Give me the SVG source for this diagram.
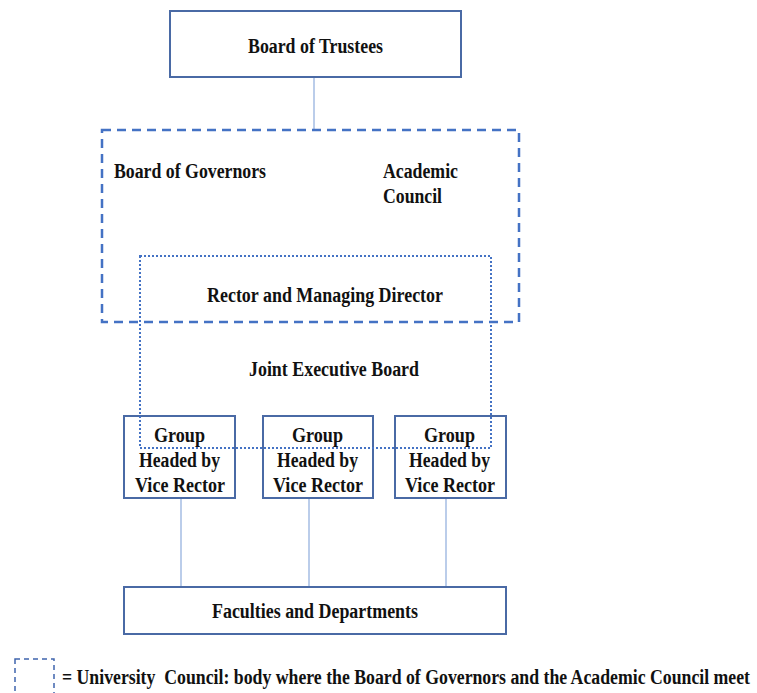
<svg xmlns="http://www.w3.org/2000/svg" width="757" height="693" viewBox="0 0 757 693">
<style>
.box{fill:#fff;stroke:#4a6aa5;stroke-width:2}
.ln{stroke:#a5bce3;stroke-width:1.5;fill:none}
.t{font-family:"Liberation Serif","Times New Roman",serif;font-weight:bold;font-size:20px;fill:#111}
.c{text-anchor:middle}
</style>
<rect width="757" height="693" fill="#fff"/>
<g id="connectors">
<line class="ln" x1="314" y1="77" x2="314" y2="129"/>
<line class="ln" x1="181" y1="499" x2="181" y2="587"/>
<line class="ln" x1="309" y1="499" x2="309" y2="587"/>
<line class="ln" x1="446" y1="499" x2="446" y2="587"/>
</g>
<g id="trustees">
<rect class="box" x="170" y="11" width="291" height="66"/>
<text class="t" x="248" y="53" textLength="135" lengthAdjust="spacingAndGlyphs">Board of Trustees</text>
</g>
<g id="university-council">
<rect x="102" y="130" width="417" height="192" fill="none" stroke="#4472c4" stroke-width="2.5" stroke-dasharray="9,6"/>
<text class="t" x="114" y="178" textLength="152" lengthAdjust="spacingAndGlyphs">Board of Governors</text>
<text class="t" x="383" y="178" textLength="75" lengthAdjust="spacingAndGlyphs">Academic</text>
<text class="t" x="383" y="203" textLength="59" lengthAdjust="spacingAndGlyphs">Council</text>
<text class="t" x="207" y="302" textLength="236" lengthAdjust="spacingAndGlyphs">Rector and Managing Director</text>
</g>
<g id="groups">
<g id="group1">
<rect class="box" x="124" y="416" width="111" height="82"/>
<text class="t" x="154" y="442" textLength="51" lengthAdjust="spacingAndGlyphs">Group</text>
<text class="t" x="139" y="467" textLength="81" lengthAdjust="spacingAndGlyphs">Headed by</text>
<text class="t" x="135" y="492" textLength="90" lengthAdjust="spacingAndGlyphs">Vice Rector</text>
</g>
<g id="group2">
<rect class="box" x="263" y="416" width="110" height="82"/>
<text class="t" x="292" y="442" textLength="51" lengthAdjust="spacingAndGlyphs">Group</text>
<text class="t" x="277" y="467" textLength="81" lengthAdjust="spacingAndGlyphs">Headed by</text>
<text class="t" x="273" y="492" textLength="90" lengthAdjust="spacingAndGlyphs">Vice Rector</text>
</g>
<g id="group3">
<rect class="box" x="395" y="416" width="111" height="82"/>
<text class="t" x="424" y="442" textLength="51" lengthAdjust="spacingAndGlyphs">Group</text>
<text class="t" x="409" y="467" textLength="81" lengthAdjust="spacingAndGlyphs">Headed by</text>
<text class="t" x="405" y="492" textLength="90" lengthAdjust="spacingAndGlyphs">Vice Rector</text>
</g>
</g>
<g id="joint-executive-board">
<rect x="140" y="256" width="351" height="192" fill="none" stroke="#4472c4" stroke-width="2" stroke-dasharray="2,2"/>
<text class="t" x="249" y="376" textLength="170" lengthAdjust="spacingAndGlyphs">Joint Executive Board</text>
</g>
<g id="faculties">
<rect class="box" x="124" y="587" width="382" height="47"/>
<text class="t" x="212" y="618" textLength="206" lengthAdjust="spacingAndGlyphs">Faculties and Departments</text>
</g>
<g id="legend">
<rect x="15" y="659" width="39" height="40" fill="none" stroke="#3f64ad" stroke-width="1.5" stroke-dasharray="5,4"/>
<g transform="translate(62,684) scale(0.8,1)">
<text class="t" x="0" y="0" textLength="860" lengthAdjust="spacingAndGlyphs">= University&#160; Council: body where the Board of Governors and the Academic Council meet</text>
</g>
</g>
</svg>
